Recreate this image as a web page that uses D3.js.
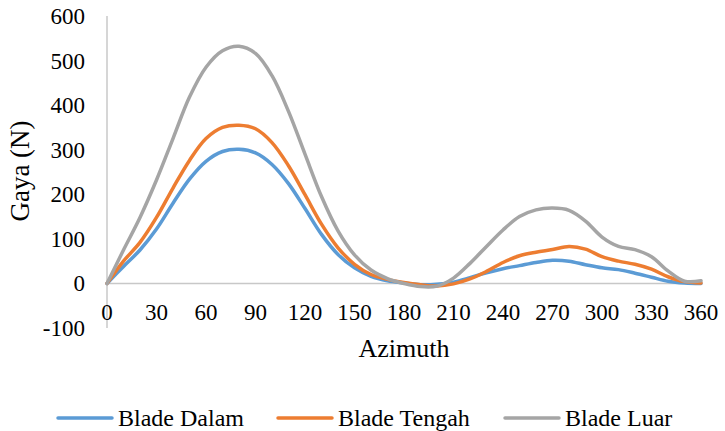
<!DOCTYPE html>
<html>
<head>
<meta charset="utf-8">
<script src="https://cdn.jsdelivr.net/npm/d3@7"></script>
<style>
  html, body { margin: 0; padding: 0; background: #fff; }
</style>
</head>
<body>
<svg id="chart" width="725" height="431"></svg>
<script>
// azimuth angles (deg)
const azimuth = [0, 10, 20, 30, 40, 50, 60, 70, 80, 90, 100, 110, 120, 130, 140, 150, 160, 170, 180,
  190, 200, 210, 220, 230, 240, 250, 260, 270, 280, 290, 300, 310, 320, 330, 340, 350, 360];

// gaya (N) per blade
const bladeDalam = [0, 38, 75, 122, 180, 234, 274, 296, 301, 293, 267, 224, 168, 110, 65, 35, 16, 6, 1,
  -3, -2, 3, 13, 24, 33, 40, 47, 52, 50, 42, 35, 31, 23, 14, 5, 1, 0];
const bladeTengah = [0, 50, 92, 148, 214, 276, 325, 350, 355, 347, 316, 264, 199, 133, 80, 43, 20, 9, 2,
  -3, -6, -1, 10, 27, 47, 62, 70, 76, 83, 77, 60, 50, 43, 32, 15, 4, 1];
const bladeLuar = [0, 75, 148, 232, 325, 418, 485, 522, 532, 516, 466, 386, 290, 195, 118, 64, 30, 11, 0,
  -7, -6, 12, 45, 83, 120, 150, 165, 169, 164, 140, 104, 83, 76, 60, 28, 5, 6];

const xTicks = [0, 30, 60, 90, 120, 150, 180, 210, 240, 270, 300, 330, 360];
const yTicks = [-100, 0, 100, 200, 300, 400, 500, 600];

const seriesNames = ["Blade Dalam", "Blade Tengah", "Blade Luar"];
const seriesColors = ["#5B9BD5", "#ED7D31", "#A5A5A5"];
const seriesValues = [bladeDalam, bladeTengah, bladeLuar];

const FONT = "Liberation Serif";

const svg = d3.select("#chart");

const x = d3.scaleLinear().domain([0, 360]).range([107, 701]);
const y = d3.scaleLinear().domain([-100, 600]).range([328, 16]);

// axis lines
svg.append("line")
  .attr("x1", x(0)).attr("x2", x(0))
  .attr("y1", y(600)).attr("y2", y(-100))
  .attr("stroke", "#c8c8c8").attr("stroke-width", 1.5);

svg.append("line")
  .attr("x1", x(0)).attr("x2", x(360))
  .attr("y1", y(0)).attr("y2", y(0))
  .attr("stroke", "#c8c8c8").attr("stroke-width", 1.5);

// tick labels
svg.append("g").selectAll("text")
  .data(yTicks)
  .join("text")
  .attr("x", 85)
  .attr("y", d => y(d))
  .attr("dy", "0.35em")
  .attr("text-anchor", "end")
  .style("font-family", FONT)
  .style("font-size", "23px")
  .attr("fill", "#000")
  .text(d => d);

svg.append("g").selectAll("text")
  .data(xTicks)
  .join("text")
  .attr("x", d => x(d))
  .attr("y", 312)
  .attr("dy", "0.35em")
  .attr("text-anchor", "middle")
  .style("font-family", FONT)
  .style("font-size", "23px")
  .attr("fill", "#000")
  .text(d => d);

// axis titles
svg.append("text")
  .attr("x", (x(0) + x(360)) / 2)
  .attr("y", 357)
  .attr("text-anchor", "middle")
  .style("font-family", FONT)
  .style("font-size", "26px")
  .text("Azimuth");

svg.append("text")
  .attr("transform", "translate(29,171) rotate(-90)")
  .attr("text-anchor", "middle")
  .style("font-family", FONT)
  .style("font-size", "27px")
  .text("Gaya (N)");

// lines
const line = d3.line()
  .x((d, i) => x(azimuth[i]))
  .y(d => y(d))
  .curve(d3.curveCatmullRom.alpha(0.5));

svg.append("g").selectAll("path")
  .data(seriesValues)
  .join("path")
  .attr("d", d => line(d))
  .attr("fill", "none")
  .attr("stroke", (d, i) => seriesColors[i])
  .attr("stroke-width", 3.5)
  .attr("stroke-linecap", "round")
  .attr("stroke-linejoin", "round");

// legend
const legendX = [58, 278, 505];
const legend = svg.append("g").selectAll("g")
  .data(seriesNames)
  .join("g")
  .attr("transform", (d, i) => `translate(${legendX[i]},418)`);

legend.append("line")
  .attr("x1", 0).attr("x2", 54)
  .attr("stroke", (d, i) => seriesColors[i])
  .attr("stroke-width", 3.5)
  .attr("stroke-linecap", "round");

legend.append("text")
  .attr("x", 60)
  .attr("dy", "0.35em")
  .style("font-family", FONT)
  .style("font-size", "24px")
  .text(d => d);
</script>
</body>
</html>
